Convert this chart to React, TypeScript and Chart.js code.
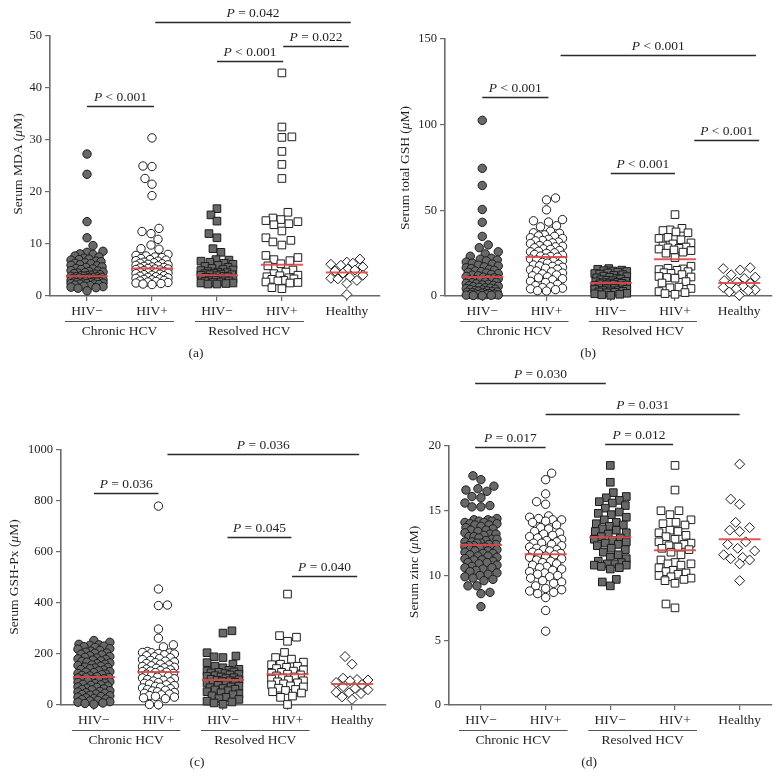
import React, { useEffect, useRef } from 'react';
import { Chart, registerables } from 'chart.js';
Chart.register(...registerables);

// ---------- labels ----------
const categories = ['HIV\u2212', 'HIV+', 'HIV\u2212', 'HIV+', 'Healthy'];
const groupLabels = ['Chronic HCV', 'Resolved HCV'];

// ---------- (a) Serum MDA ----------
const mdaChronicNeg = [27.3, 23.4, 14.3, 11.2, 9.7, 8.6, 8.4, 8.1, 8.0, 7.7, 7.5, 7.3, 7.1, 7.0, 6.9, 6.7, 6.6, 6.4, 6.3, 6.2, 6.0, 5.9, 5.8, 5.6, 5.5, 5.3, 5.2, 5.1, 4.9, 4.8, 4.7, 4.6, 4.5, 4.4, 4.3, 4.2, 4.1, 4.0, 3.9, 3.9, 3.8, 3.8, 3.7, 3.7, 3.6, 3.6, 3.5, 3.5, 3.4, 3.4, 3.3, 3.3, 3.2, 3.2, 3.1, 3.1, 3.0, 3.0, 2.9, 2.9, 2.8, 2.8, 2.7, 2.7, 2.6, 2.6, 2.5, 2.5, 2.4, 2.4, 2.3, 2.3, 2.2, 2.1, 2.0, 1.9, 1.8, 1.7, 1.6, 1.5, 1.0];
const mdaChronicPos = [30.4, 25.0, 24.9, 22.6, 21.5, 19.3, 13.0, 12.4, 12.0, 10.9, 9.8, 9.1, 9.0, 8.0, 7.8, 7.7, 7.5, 7.4, 7.2, 7.0, 6.9, 6.8, 6.7, 6.5, 6.4, 6.3, 6.2, 6.1, 6.0, 5.9, 5.8, 5.7, 5.6, 5.5, 5.4, 5.3, 5.2, 5.2, 5.1, 5.0, 4.9, 4.8, 4.7, 4.6, 4.5, 4.5, 4.4, 4.3, 4.2, 4.1, 4.0, 3.9, 3.8, 3.7, 3.6, 3.5, 3.4, 3.3, 3.2, 3.1, 3.0, 2.9, 2.8, 2.7, 2.6, 2.5, 2.4, 2.3, 2.2];
const mdaResolvedNeg = [16.8, 15.6, 14.4, 12.0, 11.2, 9.1, 8.4, 7.0, 6.9, 6.7, 6.5, 6.3, 6.1, 5.9, 5.7, 5.5, 5.3, 5.1, 5.0, 4.9, 4.7, 4.6, 4.5, 4.4, 4.3, 4.2, 4.1, 4.1, 4.0, 3.9, 3.8, 3.7, 3.6, 3.5, 3.4, 3.3, 3.2, 3.1, 3.0, 3.0, 2.9, 2.8, 2.7, 2.6, 2.5, 2.5, 2.4, 2.3, 2.3];
const mdaResolvedPos = [42.9, 32.5, 30.6, 30.5, 27.8, 25.3, 22.6, 16.1, 15.0, 14.7, 14.5, 14.3, 13.9, 13.7, 12.5, 11.2, 10.7, 10.4, 9.8, 7.8, 7.4, 7.0, 6.8, 6.2, 5.8, 5.0, 4.6, 4.3, 4.0, 3.9, 3.7, 3.5, 3.3, 3.2, 3.0, 2.9, 2.7, 2.6, 2.5, 1.6, 1.4];
const mdaHealthy = [7.1, 6.5, 6.3, 6.1, 5.9, 5.6, 5.2, 5.0, 4.8, 4.4, 4.0, 3.6, 3.4, 3.3, 3.0, 2.4, 0.3];
const mdaMedians = [3.8, 5.3, 4.0, 6.0, 4.5];

// ---------- (b) Serum total GSH ----------
const gshChronicNeg = [102.5, 74.5, 64.5, 50.5, 43.0, 34.8, 29.8, 28.2, 25.8, 24.6, 23.2, 22.0, 21.5, 21.0, 20.5, 19.8, 19.2, 18.6, 18.0, 17.5, 17.0, 16.5, 16.0, 15.5, 15.0, 14.6, 14.2, 13.8, 13.4, 13.0, 12.6, 12.2, 11.8, 11.4, 11.0, 10.6, 10.3, 10.0, 9.6, 9.3, 9.0, 8.6, 8.3, 8.0, 7.7, 7.4, 7.1, 6.8, 6.5, 6.2, 6.0, 5.7, 5.4, 5.1, 4.8, 4.6, 4.3, 4.0, 3.8, 3.5, 3.3, 3.0, 2.8, 2.6, 2.4, 2.2, 2.0, 1.8, 1.6, 1.4, 1.2, 1.0, 0.9, 0.8, 0.7, 0.6, 0.5, 0.4, 0.3, 0.2];
const gshChronicPos = [57.2, 56.1, 50.3, 44.6, 43.9, 43.2, 41.0, 40.4, 37.8, 36.9, 36.6, 35.7, 35.1, 34.8, 34.0, 33.6, 33.1, 32.4, 32.2, 31.5, 31.0, 30.6, 30.1, 29.4, 29.0, 28.7, 28.1, 27.5, 27.2, 26.6, 26.1, 25.8, 25.2, 24.9, 24.3, 23.8, 23.3, 23.0, 22.7, 22.1, 21.6, 21.0, 20.7, 20.2, 19.6, 19.2, 18.5, 18.1, 17.6, 17.3, 16.8, 16.2, 15.7, 15.3, 14.6, 14.1, 13.4, 12.9, 12.3, 11.8, 11.2, 10.6, 10.1, 9.4, 8.6, 7.9, 6.8, 6.1, 5.4, 4.9, 4.6, 4.2, 3.7, 3.1, 2.9];
const gshResolvedNeg = [16.0, 15.6, 15.1, 14.8, 14.6, 14.3, 13.9, 13.5, 13.1, 12.8, 12.4, 12.0, 11.6, 11.3, 10.9, 10.6, 10.2, 9.9, 9.5, 9.2, 8.9, 8.6, 8.3, 8.0, 7.8, 7.6, 7.4, 7.1, 6.9, 6.6, 6.4, 6.1, 5.9, 5.6, 5.4, 5.1, 4.8, 4.6, 4.3, 4.0, 3.8, 3.5, 3.2, 3.0, 2.7, 2.4, 2.2, 1.9, 1.6, 1.3, 1.0, 0.7, 0.4];
const gshResolvedPos = [47.5, 39.5, 38.6, 38.2, 37.4, 36.9, 34.2, 33.6, 32.8, 31.0, 30.4, 29.2, 28.6, 28.1, 27.8, 27.4, 26.9, 26.5, 25.6, 25.0, 22.4, 17.4, 16.2, 15.8, 15.4, 15.0, 14.2, 13.6, 13.2, 12.5, 11.4, 11.1, 10.8, 10.4, 8.4, 7.6, 5.2, 4.8, 4.4, 2.6, 2.0, 1.4, 1.0];
const gshHealthy = [16.5, 16.0, 15.2, 12.4, 11.0, 10.2, 9.0, 8.1, 7.4, 6.6, 5.6, 5.0, 4.2, 3.6, 3.1, 2.4, 0.4];
const gshMedians = [11.1, 22.8, 7.6, 21.5, 7.6];

// ---------- (c) Serum GSH-Px ----------
const pxChronicNeg = [253, 246, 238, 236, 234, 231, 229, 226, 221, 219, 214, 211, 207, 204, 203, 199, 196, 193, 190, 187, 184, 181, 179, 176, 173, 171, 168, 165, 162, 160, 157, 155, 152, 149, 147, 145, 142, 139, 137, 134, 131, 129, 127, 124, 121, 119, 116, 114, 111, 109, 108, 106, 103, 101, 99, 96, 94, 91, 89, 86, 84, 81, 79, 77, 74, 71, 69, 66, 63, 61, 59, 56, 53, 51, 48, 46, 43, 41, 38, 36, 33, 31, 28, 26, 23, 21, 18, 16, 13, 11, 8, 6, 3];
const pxChronicPos = [780, 455, 392, 390, 298, 262, 236, 228, 210, 206, 205, 204, 202, 200, 197, 193, 189, 185, 182, 178, 175, 172, 169, 166, 163, 160, 157, 154, 151, 148, 146, 144, 141, 138, 135, 133, 131, 129, 127, 124, 121, 118, 115, 112, 109, 106, 103, 100, 97, 94, 91, 88, 85, 82, 79, 76, 73, 70, 67, 64, 61, 58, 55, 52, 49, 46, 43, 40, 37, 34, 31, 28, 25, 2, 1];
const pxResolvedNeg = [291, 282, 205, 192, 189, 186, 166, 160, 152, 146, 140, 136, 133, 130, 128, 126, 123, 120, 118, 115, 112, 110, 107, 104, 101, 99, 97, 95, 92, 89, 86, 83, 80, 77, 74, 71, 68, 65, 62, 59, 56, 52, 48, 44, 40, 36, 30, 25, 22, 15, 12, 8, 3];
const pxResolvedPos = [435, 272, 266, 250, 206, 186, 180, 168, 160, 158, 152, 148, 143, 138, 133, 128, 125, 121, 118, 114, 110, 106, 102, 98, 95, 91, 87, 83, 79, 75, 71, 66, 61, 57, 52, 47, 35, 30, 2];
const pxHealthy = [190, 160, 105, 100, 98, 95, 88, 80, 72, 65, 60, 50, 48, 45, 32, 22];
const pxMedians = [110, 129, 98, 121, 82];

// ---------- (d) Serum zinc ----------
const znChronicNeg = [17.7, 17.4, 16.9, 16.7, 16.6, 16.5, 16.1, 16.0, 15.6, 15.4, 15.3, 15.3, 14.4, 14.3, 14.3, 14.2, 14.2, 14.1, 14.1, 14.0, 14.0, 13.9, 13.9, 13.8, 13.7, 13.6, 13.5, 13.5, 13.4, 13.3, 13.2, 13.2, 13.1, 13.0, 13.0, 12.9, 12.8, 12.8, 12.7, 12.6, 12.6, 12.5, 12.5, 12.4, 12.4, 12.3, 12.3, 12.2, 12.2, 12.1, 12.1, 12.0, 12.0, 11.9, 11.9, 11.8, 11.7, 11.7, 11.6, 11.5, 11.5, 11.4, 11.3, 11.2, 11.2, 11.1, 11.0, 11.0, 10.9, 10.8, 10.7, 10.6, 10.6, 10.5, 10.4, 10.3, 10.2, 10.1, 10.0, 9.9, 9.8, 9.7, 9.6, 9.2, 9.2, 8.7, 8.6, 7.6];
const znChronicPos = [17.9, 17.4, 16.3, 15.7, 15.5, 14.6, 14.5, 14.4, 14.3, 14.3, 14.2, 14.1, 13.9, 13.7, 13.6, 13.4, 13.3, 13.2, 13.1, 13.0, 12.9, 12.8, 12.7, 12.6, 12.5, 12.5, 12.4, 12.3, 12.2, 12.1, 12.0, 12.0, 11.9, 11.8, 11.7, 11.7, 11.6, 11.5, 11.4, 11.3, 11.2, 11.1, 11.0, 10.9, 10.8, 10.7, 10.6, 10.5, 10.4, 10.3, 10.2, 10.1, 10.0, 9.9, 9.8, 9.6, 9.5, 9.4, 9.2, 9.0, 8.9, 8.8, 8.7, 8.6, 8.3, 7.3, 5.7];
const znResolvedNeg = [18.5, 17.2, 16.4, 16.1, 16.0, 15.8, 15.7, 15.6, 15.4, 15.2, 14.9, 14.8, 14.7, 14.5, 14.3, 14.1, 14.0, 13.9, 13.8, 13.6, 13.5, 13.4, 13.3, 13.2, 13.0, 12.9, 12.8, 12.7, 12.6, 12.5, 12.4, 12.3, 12.1, 12.0, 11.8, 11.6, 11.4, 11.3, 11.1, 11.0, 10.9, 10.9, 10.8, 10.8, 10.7, 10.6, 10.5, 9.7, 9.5, 9.2];
const znResolvedPos = [18.5, 16.6, 15.0, 15.0, 14.7, 14.3, 14.1, 14.0, 13.9, 13.5, 13.4, 13.3, 13.1, 13.0, 12.8, 12.6, 12.5, 12.4, 12.3, 12.2, 12.1, 12.0, 11.8, 11.6, 11.2, 11.0, 10.9, 10.9, 10.8, 10.6, 10.4, 10.3, 10.2, 10.1, 10.0, 9.9, 9.8, 9.7, 9.6, 9.4, 7.8, 7.5];
const znHealthy = [18.6, 15.9, 15.5, 14.1, 13.7, 13.5, 13.4, 12.6, 12.4, 12.1, 11.9, 11.6, 11.4, 11.3, 11.2, 10.9, 9.6];
const znMedians = [12.35, 11.65, 12.95, 11.95, 12.8];

// ---------- significance annotations (from/to in category units, y in value units) ----------
type Sig = { from: number; to: number; y: number; rel: string };
const mdaSigs: Sig[] = [
  { from: 1.0, to: 2.03, y: 36.5, rel: ' < 0.001' },
  { from: 3.0, to: 4.02, y: 45.2, rel: ' < 0.001' },
  { from: 4.02, to: 5.03, y: 48.1, rel: ' = 0.022' },
  { from: 2.05, to: 5.06, y: 52.7, rel: ' = 0.042' },
];
const gshSigs: Sig[] = [
  { from: 1.0, to: 2.03, y: 116.2, rel: ' < 0.001' },
  { from: 2.22, to: 5.26, y: 140.7, rel: ' < 0.001' },
  { from: 4.3, to: 5.31, y: 91.1, rel: ' < 0.001' },
  { from: 3.0, to: 4.0, y: 71.8, rel: ' < 0.001' },
];
const pxSigs: Sig[] = [
  { from: 2.14, to: 5.11, y: 984, rel: ' = 0.036' },
  { from: 1.0, to: 2.0, y: 831, rel: ' = 0.036' },
  { from: 3.07, to: 4.06, y: 659, rel: ' = 0.045' },
  { from: 4.07, to: 5.08, y: 506, rel: ' = 0.040' },
];
const znSigs: Sig[] = [
  { from: 0.91, to: 2.93, y: 24.9, rel: ' = 0.030' },
  { from: 2.0, to: 5.0, y: 22.5, rel: ' = 0.031' },
  { from: 0.91, to: 2.0, y: 19.9, rel: ' = 0.017' },
  { from: 2.92, to: 3.97, y: 20.15, rel: ' = 0.012' },
];

// ---------- layout / styles ----------
const FONT = "'Liberation Serif', 'Times New Roman', serif";
const TEXT = '#231f20';
const AXIS = '#6a6a6a';
const DARK = '#686868';
const CW = 392;

const markerStyles = [
  { pointStyle: 'circle', radius: 4.2, fill: DARK, dist: 8.6 },
  { pointStyle: 'circle', radius: 4.2, fill: '#ffffff', dist: 8.8 },
  { pointStyle: 'rect', radius: 5.4, fill: DARK, dist: 8.6 },
  { pointStyle: 'rect', radius: 5.4, fill: '#ffffff', dist: 9.5 },
  { pointStyle: 'rectRot', radius: 5, fill: '#ffffff', dist: 10 },
];

type Panel = {
  left: number; top: number; height: number;
  area: { l: number; t: number; r: number; b: number };
  yMax: number; yStep: number; xMin: number; xMax: number;
  title: string; titleX: number; titleY: number;
  label: string; labelX: number; labelY: number;
  series: number[][]; medians: number[]; sigs: Sig[];
};

const panels: Panel[] = [
  {
    left: 0, top: 0, height: 388, area: { l: 50, t: 36, r: 380, b: 296 }, yMax: 50, yStep: 10, xMin: 0.43, xMax: 5.51,
    title: 'Serum MDA (\u03bcM)', titleX: 18, titleY: 164, label: '(a)', labelX: 196, labelY: 353,
    series: [mdaChronicNeg, mdaChronicPos, mdaResolvedNeg, mdaResolvedPos, mdaHealthy], medians: mdaMedians, sigs: mdaSigs,
  },
  {
    left: 392, top: 0, height: 388, area: { l: 53, t: 39, r: 380, b: 296 }, yMax: 150, yStep: 50, xMin: 0.42, xMax: 5.51,
    title: 'Serum total GSH (\u03bcM)', titleX: 13, titleY: 168, label: '(b)', labelX: 196, labelY: 353,
    series: [gshChronicNeg, gshChronicPos, gshResolvedNeg, gshResolvedPos, gshHealthy], medians: gshMedians, sigs: gshSigs,
  },
  {
    left: 0, top: 360, height: 416, area: { l: 61, t: 90, r: 387, b: 345 }, yMax: 1000, yStep: 200, xMin: 0.49, xMax: 5.52,
    title: 'Serum GSH-Px (\u03bcM)', titleX: 14, titleY: 217, label: '(c)', labelX: 197, labelY: 402,
    series: [pxChronicNeg, pxChronicPos, pxResolvedNeg, pxResolvedPos, pxHealthy], medians: pxMedians, sigs: pxSigs,
  },
  {
    left: 392, top: 360, height: 416, area: { l: 57, t: 86, r: 380, b: 345 }, yMax: 20, yStep: 5, xMin: 0.506, xMax: 5.5,
    title: 'Serum zinc (\u03bcM)', titleX: 22, titleY: 212, label: '(d)', labelX: 197, labelY: 402,
    series: [znChronicNeg, znChronicPos, znResolvedNeg, znResolvedPos, znHealthy], medians: znMedians, sigs: znSigs,
  },
];

// beeswarm: horizontal pixel offsets for a column of values
function swarm(values: number[], pxPerUnit: number, dist: number, maxOff: number): number[] {
  const order = values.map((_, i) => i).sort((a, b) => values[a] - values[b]);
  const placed: { x: number; y: number }[] = [];
  const offs = new Array(values.length).fill(0);
  const cands: number[] = [0];
  for (let k = 1; k <= maxOff; k++) cands.push(k, -k);
  let flip = 1;
  for (const i of order) {
    const y = values[i] * pxPerUnit;
    const near = placed.filter((p) => Math.abs(p.y - y) < dist);
    let best = 0;
    let bestD = -1;
    for (const c0 of cands) {
      const c = c0 * flip;
      let m = Infinity;
      for (const p of near) {
        const dd = Math.hypot(p.x - c, p.y - y);
        if (dd < m) m = dd;
      }
      if (m >= dist) { best = c; bestD = m; break; }
      if (m > bestD + 0.01) { bestD = m; best = c; }
    }
    flip = -flip;
    placed.push({ x: best, y });
    offs[i] = best;
  }
  return offs;
}

function drawMixed(ctx: CanvasRenderingContext2D, parts: { t: string; it: boolean }[], cx: number, y: number, size: number) {
  const widths = parts.map((p) => {
    ctx.font = `${p.it ? 'italic ' : ''}${size}px ${FONT}`;
    return ctx.measureText(p.t).width;
  });
  const total = widths.reduce((a, b) => a + b, 0);
  let x = cx - total / 2;
  ctx.textAlign = 'left';
  parts.forEach((p, i) => {
    ctx.font = `${p.it ? 'italic ' : ''}${size}px ${FONT}`;
    ctx.fillText(p.t, x, y);
    x += widths[i];
  });
}

function makeChart(canvas: HTMLCanvasElement, p: Panel) {
  const plotH = p.area.b - p.area.t;
  const plotW = p.area.r - p.area.l;
  const pxPerUnit = plotH / p.yMax;
  const pxPerCat = plotW / (p.xMax - p.xMin);

  const datasets = p.series.map((vals, gi) => {
    const st = markerStyles[gi];
    const offs = swarm(vals, pxPerUnit, st.dist, 16);
    return {
      label: categories[gi],
      data: vals.map((v, i) => ({ x: gi + 1 + offs[i] / pxPerCat, y: v })),
      pointStyle: st.pointStyle as any,
      pointRadius: st.radius,
      pointBackgroundColor: st.fill,
      pointBorderColor: '#1c1c1c',
      pointBorderWidth: 1,
      showLine: false,
      clip: false as any,
    };
  });

  const overlay = {
    id: 'overlay',
    afterDatasetsDraw(chart: any) {
      const { ctx } = chart;
      const xs = chart.scales.x;
      const ys = chart.scales.y;
      ctx.save();
      ctx.strokeStyle = 'rgba(226,70,70,0.9)';
      ctx.lineWidth = 2;
      p.medians.forEach((m, i) => {
        const cx = xs.getPixelForValue(i + 1);
        const py = ys.getPixelForValue(m);
        ctx.beginPath();
        ctx.moveTo(cx - 21, py);
        ctx.lineTo(cx + 21, py);
        ctx.stroke();
      });
      ctx.restore();
    },
    afterDraw(chart: any) {
      const { ctx } = chart;
      const xs = chart.scales.x;
      const ys = chart.scales.y;
      ctx.save();
      ctx.fillStyle = TEXT;
      // significance bars
      ctx.strokeStyle = '#2a2a2a';
      ctx.lineWidth = 1.3;
      p.sigs.forEach((s) => {
        const x1 = xs.getPixelForValue(s.from);
        const x2 = xs.getPixelForValue(s.to);
        const yy = Math.round(ys.getPixelForValue(s.y)) + 0.5;
        ctx.beginPath();
        ctx.moveTo(x1, yy);
        ctx.lineTo(x2, yy);
        ctx.stroke();
        ctx.textBaseline = 'alphabetic';
        drawMixed(ctx, [{ t: 'P', it: true }, { t: s.rel, it: false }], (x1 + x2) / 2, yy - 5.5, 13.5);
      });
      // category labels
      const bottom = chart.chartArea.bottom;
      ctx.textBaseline = 'middle';
      ctx.textAlign = 'center';
      ctx.font = `13.5px ${FONT}`;
      categories.forEach((c, i) => {
        ctx.fillText(c, xs.getPixelForValue(i + 1), bottom + 15);
      });
      // group underline + labels
      ctx.strokeStyle = '#555';
      ctx.lineWidth = 1.2;
      groupLabels.forEach((g, k) => {
        const a = xs.getPixelForValue(2 * k + 1) - 22;
        const b = xs.getPixelForValue(2 * k + 2) + 22;
        const ly = bottom + 25.5;
        ctx.beginPath();
        ctx.moveTo(a, ly);
        ctx.lineTo(b, ly);
        ctx.stroke();
        ctx.fillText(g, (a + b) / 2, bottom + 35);
      });
      // panel label
      ctx.fillText(p.label, p.labelX, p.labelY);
      // y title (rotated, italic mu)
      ctx.save();
      ctx.translate(p.titleX, p.titleY);
      ctx.rotate(-Math.PI / 2);
      ctx.textBaseline = 'middle';
      const parts = p.title.split('\u03bc');
      drawMixed(ctx, [{ t: parts[0], it: false }, { t: '\u03bc', it: true }, { t: parts[1], it: false }], 0, 0, 13.5);
      ctx.restore();
      ctx.restore();
    },
  };

  return new Chart(canvas, {
    type: 'scatter',
    data: { datasets: datasets as any },
    options: {
      responsive: false,
      animation: false,
      maintainAspectRatio: false,
      devicePixelRatio: 1,
      layout: { padding: { left: 0, top: p.area.t, right: CW - p.area.r, bottom: 0 } },
      plugins: { legend: { display: false }, tooltip: { enabled: false } },
      events: [],
      scales: {
        x: {
          type: 'linear',
          min: p.xMin,
          max: p.xMax,
          afterBuildTicks: (s: any) => { s.ticks = [1, 2, 3, 4, 5].map((v) => ({ value: v })); },
          afterFit: (s: any) => { s.height = p.height - p.area.b; },
          ticks: { callback: () => '', autoSkip: false },
          grid: { drawOnChartArea: false, drawTicks: true, tickLength: 5, color: AXIS, lineWidth: 1.2 },
          border: { color: AXIS, width: 1.6 },
        },
        y: {
          type: 'linear',
          min: 0,
          max: p.yMax,
          afterFit: (s: any) => { s.width = p.area.l; },
          ticks: {
            stepSize: p.yStep,
            color: TEXT,
            font: { family: FONT, size: 12.5 },
            padding: 3,
            callback: (v: any) => String(v),
          },
          grid: { drawOnChartArea: false, drawTicks: true, tickLength: 5, color: AXIS, lineWidth: 1.2 },
          border: { color: AXIS, width: 1.6 },
        },
      },
    } as any,
    plugins: [overlay],
  });
}

function PanelChart({ p }: { p: Panel }) {
  const ref = useRef<HTMLCanvasElement | null>(null);
  useEffect(() => {
    if (!ref.current) return;
    const chart = makeChart(ref.current, p);
    return () => chart.destroy();
  }, [p]);
  return (
    <canvas
      ref={ref}
      width={CW}
      height={p.height}
      style={{ position: 'absolute', left: p.left, top: p.top, width: CW, height: p.height }}
    />
  );
}

export default function App() {
  useEffect(() => {
    document.body.style.margin = '0';
    document.body.style.background = '#ffffff';
  }, []);
  return (
    <div style={{ position: 'relative', width: 784, height: 776, background: '#ffffff', overflow: 'hidden' }}>
      {panels.map((p, i) => (
        <PanelChart key={i} p={p} />
      ))}
    </div>
  );
}
